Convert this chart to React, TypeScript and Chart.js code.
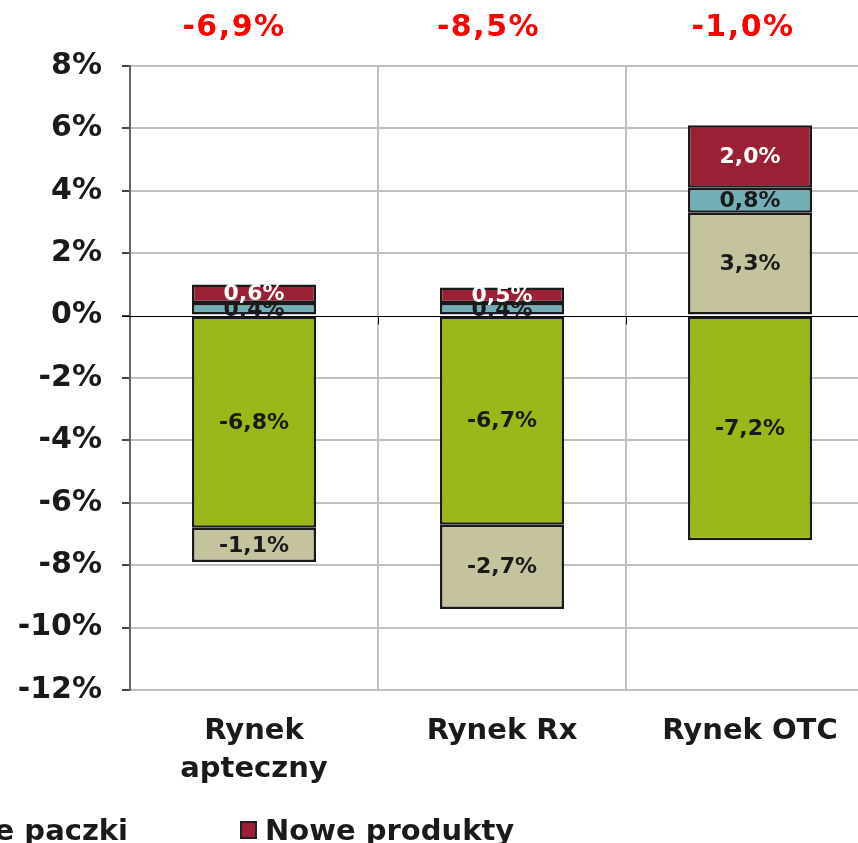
import React, { useEffect, useRef } from 'react';
import { Chart, registerables } from 'chart.js';

Chart.register(...registerables);

const categories: (string | string[])[] = [['Rynek', 'apteczny'], 'Rynek Rx', 'Rynek OTC'];
const seriesNames = ['Stare produkty', 'Ceny', 'Nowe paczki', 'Nowe produkty'];
const greenValues = [-6.8, -6.7, -7.2];
const tanValues = [-1.1, -2.7, 3.3];
const tealValues = [0.4, 0.4, 0.8];
const redValues = [0.6, 0.5, 2.0];
const totals = [-6.9, -8.5, -1.0];
const yTicks = { min: -12, max: 8, step: 2 };
const legendItems = [
  { name: 'Nowe paczki', color: '#72AFB7' },
  { name: 'Nowe produkty', color: '#9B2035' },
];

const colors = ['#9AB81A', '#C5C29E', '#72AFB7', '#9B2035'];
const FONT = "'DejaVu Sans', Verdana, sans-serif";

const fmt = (v: number) => v.toFixed(1).replace('.', ',') + '%';

export default function App() {
  const ref = useRef<HTMLCanvasElement>(null);

  useEffect(() => {
    if (!ref.current) return;
    const seriesValues = [greenValues, tanValues, tealValues, redValues];

    const labelPlugin = {
      id: 'customLabels',
      beforeDatasetsDraw(chart: any) {
        const { ctx, chartArea, scales } = chart;
        const y0 = Math.round(scales.y.getPixelForValue(0)) + 0.5;
        ctx.save();
        ctx.strokeStyle = '#000';
        ctx.lineWidth = 1;
        ctx.beginPath();
        ctx.moveTo(chartArea.left - 8, y0);
        ctx.lineTo(chartArea.right, y0);
        const n = categories.length;
        for (let i = 1; i < n; i++) {
          const xb = Math.round((scales.x.getPixelForValue(i - 1) + scales.x.getPixelForValue(i)) / 2) + 0.5;
          ctx.moveTo(xb, y0);
          ctx.lineTo(xb, y0 + 8);
        }
        ctx.stroke();
        ctx.restore();
      },
      afterDatasetsDraw(chart: any) {
        const { ctx, scales } = chart;
        ctx.save();
        ctx.font = `bold 22px ${FONT}`;
        ctx.textAlign = 'center';
        ctx.textBaseline = 'middle';
        const last = seriesValues.length - 1;
        seriesValues.forEach((vals, i) => {
          const meta = chart.getDatasetMeta(i);
          meta.data.forEach((bar: any, j: number) => {
            const { x, y, base } = bar.getProps(['x', 'y', 'base'], true);
            const cy = (y + base) / 2;
            ctx.save();
            if (i !== last) {
              ctx.beginPath();
              ctx.rect(0, Math.min(y, base), chart.width, chart.height);
              ctx.clip();
            }
            ctx.fillStyle = i === last ? '#ffffff' : '#1a1a1a';
            ctx.fillText(fmt(vals[j]), x, cy + 1);
            ctx.restore();
          });
        });
        ctx.font = `bold 30px ${FONT}`;
        (ctx as any).letterSpacing = '1.5px';
        ctx.fillStyle = '#ff0000';
        totals.forEach((t, j) => {
          ctx.fillText(fmt(t), scales.x.getPixelForValue(j) - 20 + 6.5 * j, 28);
        });
        ctx.restore();
      },
    };

    const chart = new Chart(ref.current, {
      type: 'bar',
      data: {
        labels: categories as any,
        datasets: seriesValues.map((vals, i) => ({
          label: seriesNames[i],
          data: vals,
          backgroundColor: colors[i],
          borderColor: '#1a1a1a',
          borderWidth: 2.5,
          borderSkipped: false,
          categoryPercentage: 1,
          barPercentage: 0.5,
        })),
      },
      options: {
        responsive: false,
        animation: false,
        layout: { padding: { top: 66, left: 0, right: 0, bottom: 0 } },
        plugins: { legend: { display: false }, tooltip: { enabled: false } },
        scales: {
          x: {
            stacked: true,
            grid: { offset: true, color: '#c0c0c0', lineWidth: 2, drawTicks: false },
            border: { display: false },
            ticks: {
              color: '#1a1a1a',
              padding: 23,
              font: { family: FONT, size: 29, weight: 'bold', lineHeight: 1.3 },
              maxRotation: 0,
              autoSkip: false,
            },
            afterFit: (s: any) => { s.height = 843 - 690; },
          },
          y: {
            stacked: true,
            min: yTicks.min,
            max: yTicks.max,
            ticks: {
              stepSize: yTicks.step,
              color: '#1a1a1a',
              padding: 20,
              font: { family: FONT, size: 30, weight: 'bold' },
              callback: (v: any) => v + '%',
            },
            grid: {
              color: (c: any) => (c.tick && c.tick.value === 0 ? 'rgba(0,0,0,0)' : '#c0c0c0'),
              lineWidth: 2,
              tickColor: '#444',
              tickLength: 8,
            },
            border: { display: true, color: '#666', width: 2 },
            afterFit: (s: any) => { s.width = 130; },
          },
        },
      },
      plugins: [labelPlugin],
    } as any);
    return () => chart.destroy();
  }, []);

  const textStyle: React.CSSProperties = {
    fontFamily: FONT,
    fontWeight: 'bold',
    fontSize: 29,
    lineHeight: '30px',
    color: '#1a1a1a',
    whiteSpace: 'nowrap',
  };
  const box = (color: string): React.CSSProperties => ({
    display: 'inline-block',
    width: 13,
    height: 14,
    background: color,
    border: '2px solid #222',
    marginRight: 8,
  });

  return (
    <div style={{ position: 'absolute', left: 0, top: 0, width: 858, height: 843, overflow: 'hidden', background: '#fff' }}>
      <canvas ref={ref} width={874} height={843} style={{ position: 'absolute', left: 0, top: 0, width: 874, height: 843 }} />
      <div style={{ ...textStyle, position: 'absolute', right: 858 - 128, top: 815, display: 'flex', alignItems: 'center' }}>
        <span style={box(legendItems[0].color)} />
        <span>{legendItems[0].name}</span>
      </div>
      <div style={{ ...textStyle, position: 'absolute', left: 240, top: 815, display: 'flex', alignItems: 'center' }}>
        <span style={box(legendItems[1].color)} />
        <span>{legendItems[1].name}</span>
      </div>
    </div>
  );
}
